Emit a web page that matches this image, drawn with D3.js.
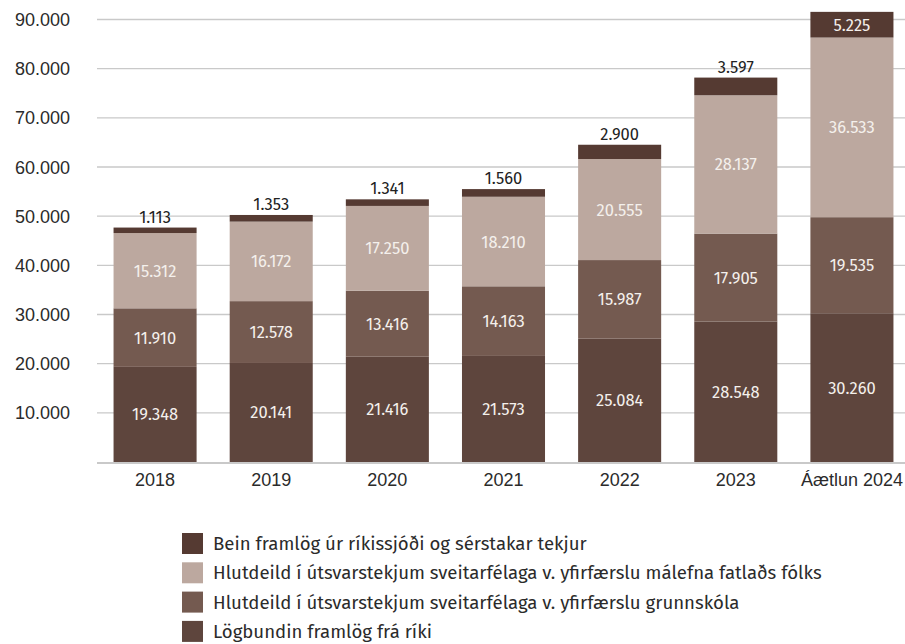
<!DOCTYPE html>
<html>
<head>
<meta charset="utf-8">
<script src="https://cdn.jsdelivr.net/npm/d3@7"></script>
<style>
	body{margin:0;background:#fff;}
	svg{display:block;font-family:"Fira Sans","Open Sans","Noto Sans",sans-serif;}
	.grid line{stroke:#c9c9c9;stroke-width:1.3;}
	.tick text{fill:#2b2b2b;}
</style>
</head>
<body>
<svg id="chart" width="905" height="644"></svg>
<script>
var years=["2018","2019","2020","2021","2022","2023","Áætlun 2024"],
	logbundin=[19348,20141,21416,21573,25084,28548,30260],
	grunnskoli=[11910,12578,13416,14163,15987,17905,19535],
	fatladir=[15312,16172,17250,18210,20555,28137,36533],
	bein=[1113,1353,1341,1560,2900,3597,5225],
	yTicks=[10000,20000,30000,40000,50000,60000,70000,80000,90000];

var seriesNames=["Lögbundin framlög frá ríki",
	"Hlutdeild í útsvarstekjum sveitarfélaga v. yfirfærslu grunnskóla",
	"Hlutdeild í útsvarstekjum sveitarfélaga v. yfirfærslu málefna fatlaðs fólks",
	"Bein framlög úr ríkissjóði og sérstakar tekjur"];

var COLORS=["#5e453d","#745a50","#bca89f","#553a32"];

var svg=d3.select("#chart");

var locale=d3.formatLocale({decimal:",",thousands:".",grouping:[3],currency:["",""]});
var fmt=locale.format(",d");

//one row per year, stacked bottom to top
var rows=years.map(function(y,i){
	return {year:y,s0:logbundin[i],s1:grunnskoli[i],s2:fatladir[i],s3:bein[i]};
});
var keys=["s0","s1","s2","s3"];
var stacked=d3.stack().keys(keys)(rows);

var x=d3.scaleBand()
	.domain(years)
	.range([97,910])
	.paddingInner(0.285)
	.paddingOuter(0.1425);

var y=d3.scaleLinear()
	.domain([0,90000])
	.range([462,19.5]);

//gridlines
svg.append("g")
	.attr("class","grid")
	.selectAll("line")
	.data(yTicks)
	.enter().append("line")
	.attr("x1",97)
	.attr("x2",905)
	.attr("y1",function(d){return y(d);})
	.attr("y2",function(d){return y(d);});

var yAxis=svg.append("g")
	.attr("transform","translate(70,0)")
	.call(d3.axisLeft(y).tickValues(yTicks).tickFormat(fmt).tickSize(0).tickPadding(0));
yAxis.select(".domain").remove();
yAxis.selectAll("text").attr("font-size","18px").attr("dy","0.34em");

//bars
var layer=svg.selectAll(".layer")
	.data(stacked)
	.enter().append("g")
	.attr("class","layer")
	.attr("fill",function(d,i){return COLORS[i];});

layer.selectAll("rect")
	.data(function(d){return d;})
	.enter().append("rect")
	.attr("x",function(d){return x(d.data.year);})
	.attr("width",x.bandwidth())
	.attr("y",function(d){return y(d[1]);})
	.attr("height",function(d){return y(d[0])-y(d[1]);});

//baseline
svg.append("line")
	.attr("x1",97)
	.attr("x2",905)
	.attr("y1",y(0)+1)
	.attr("y2",y(0)+1)
	.attr("stroke","#c9c9c9")
	.attr("stroke-width",2);

var xAxis=svg.append("g")
	.attr("transform","translate(0,"+y(0)+")")
	.call(d3.axisBottom(x).tickSize(0).tickPadding(11));
xAxis.select(".domain").remove();
xAxis.selectAll("text").attr("font-size","18px").attr("dy","0.71em");

//value labels
layer.each(function(ser,si){
	d3.select(this).selectAll("text")
		.data(ser)
		.enter().append("text")
		.attr("x",function(d){return x(d.data.year)+x.bandwidth()/2;})
		.attr("y",function(d){
			if(si==3 && y(d[1])>30){return y(d[1])-5;}
			return (y(d[0])+y(d[1]))/2+6;
		})
		.attr("text-anchor","middle")
		.attr("font-size","16.5px")
		.attr("fill",function(d){
			return (si==3 && y(d[1])>30)?"#222":"#f4f0ec";
		})
		.text(function(d){return fmt(d[1]-d[0]);});
});

//legend, top series first
var legend=svg.append("g")
	.attr("transform","translate(182,533)");
var items=legend.selectAll("g")
	.data([3,2,1,0])
	.enter().append("g")
	.attr("transform",function(d,i){return "translate(0,"+(i*29.3)+")";});
items.append("rect")
	.attr("width",21)
	.attr("height",21)
	.attr("fill",function(d){return COLORS[d];});
items.append("text")
	.attr("x",31)
	.attr("y",17)
	.attr("font-size","18.6px")
	.attr("fill","#2b2b2b")
	.text(function(d){return seriesNames[d];});
</script>
</body>
</html>
